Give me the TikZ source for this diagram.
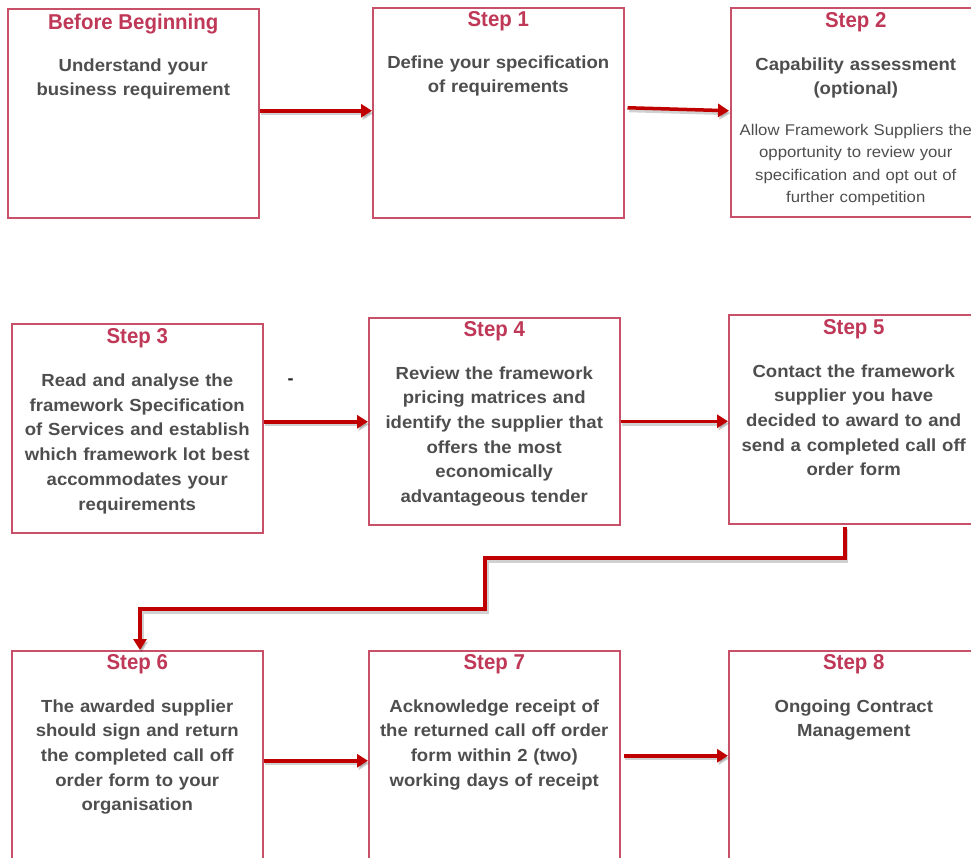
\documentclass[tikz,border=0pt]{standalone}
\usepackage{fontspec}
\setmainfont{Liberation Sans}
\newfontfamily\bodyfont[FakeStretch=1.06]{Liberation Sans}
\newfontfamily\smallfont[FakeStretch=1.08]{Liberation Sans}
\newfontfamily\titlefont[FakeStretch=0.95]{Liberation Sans}
\usetikzlibrary{arrows.meta,calc}
\definecolor{ttlred}{RGB}{192,56,88}
\definecolor{boxred}{RGB}{200,80,105}
\definecolor{txtgray}{RGB}{78,78,78}
\definecolor{arrred}{RGB}{192,0,0}
\tikzset{
  box/.style={draw=boxred, line width=1.5pt, anchor=north west, inner sep=0pt, fill=white},
  ttl/.style={anchor=base, inner sep=0pt, text=ttlred, font=\fontsize{21.5}{24}\selectfont\titlefont\bfseries},
  body/.style={anchor=base, inner sep=0pt, text=txtgray, align=center, text width=248pt,
    font=\fontsize{17.5}{24.7}\selectfont\bodyfont\bfseries},
  small/.style={anchor=base, inner sep=0pt, text=txtgray, align=center, text width=250pt,
    font=\fontsize{15.5}{22.3}\selectfont\smallfont},
  flow/.style={draw=arrred, line width=3.5pt, -{Triangle[length=11pt,width=13pt]}},
  flowshadow/.style={draw=black, opacity=0.18, line width=4pt, -{Triangle[length=11pt,width=13pt]},
    transform canvas={shift={(1.5pt,-2.5pt)}}}
}
\begin{document}
\begin{tikzpicture}[x=1pt,y=-1pt]
\useasboundingbox (0,0) rectangle (971,857);
\clip (0,0) rectangle (971,857);
\fill[white] (0,0) rectangle (971,857);

% boxes
\node[box, minimum width=251pt, minimum height=209pt] (b0) at (7,8) {};
\node[box, minimum width=251pt, minimum height=210pt] (b1) at (372,7) {};
\node[box, minimum width=250pt, minimum height=209pt] (b2) at (730,7) {};
\node[box, minimum width=251pt, minimum height=209pt] (b3) at (11,323) {};
\node[box, minimum width=251pt, minimum height=207pt] (b4) at (368,317) {};
\node[box, minimum width=250pt, minimum height=209pt] (b5) at (728,314) {};
\node[box, minimum width=251pt, minimum height=230pt] (b6) at (11,650) {};
\node[box, minimum width=251pt, minimum height=230pt] (b7) at (368,650) {};
\node[box, minimum width=250pt, minimum height=230pt] (b8) at (728,650) {};

% titles
\node[ttl] (t0) at ([yshift=-21pt]b0.north) {Before Beginning};
\node[ttl] (t1) at ([yshift=-19pt]b1.north) {Step 1};
\node[ttl] (t2) at ([yshift=-20pt]b2.north) {Step 2};
\node[ttl] (t3) at ([yshift=-20pt]b3.north) {Step 3};
\node[ttl] (t4) at ([yshift=-19.5pt]b4.north) {Step 4};
\node[ttl] (t5) at ([yshift=-20pt]b5.north) {Step 5};
\node[ttl] (t6) at ([yshift=-19.5pt]b6.north) {Step 6};
\node[ttl] (t7) at ([yshift=-19.5pt]b7.north) {Step 7};
\node[ttl] (t8) at ([yshift=-19.5pt]b8.north) {Step 8};

% body texts
\node[body] (x0) at ([yshift=-63pt]b0.north) {Understand your\\business requirement};
\node[body] (x1) at ([yshift=-61pt]b1.north) {Define your specification\\of requirements};
\node[body] (x2) at ([yshift=-63pt]b2.north) {Capability assessment\\(optional)};
\node[small] (s2) at ([yshift=-128.5pt]b2.north) {Allow Framework Suppliers the\\opportunity to review your\\specification and opt out of\\further competition};
\node[body] (x3) at ([yshift=-63.5pt]b3.north) {Read and analyse the\\framework Specification\\of Services and establish\\which framework lot best\\accommodates your\\requirements};
\node[body] (x4) at ([yshift=-62pt]b4.north) {Review the framework\\pricing matrices and\\identify the supplier that\\offers the most\\economically\\advantageous tender};
\node[body] (x5) at ([yshift=-63pt]b5.north) {Contact the framework\\supplier you have\\decided to award to and\\send a completed call off\\order form};
\node[body] (x6) at ([yshift=-62pt]b6.north) {The awarded supplier\\should sign and return\\the completed call off\\order form to your\\organisation};
\node[body] (x7) at ([yshift=-62pt]b7.north) {Acknowledge receipt of\\the returned call off order\\form within 2 (two)\\working days of receipt};
\node[body] (x8) at ([yshift=-62pt]b8.north) {Ongoing Contract\\Management};

% stray dash
\node[anchor=base, inner sep=0pt, text=black!85, font=\fontsize{18}{20}\selectfont\bfseries] (dash) at (290.5,384) {-};

% connector anchor points
\coordinate (a1s) at ([yshift=2.5pt]b0.east);
\coordinate (a2s) at ([xshift=3pt,yshift=5pt]b1.east);
\coordinate (a2e) at ([xshift=-1pt,yshift=1.5pt]b2.west);
\coordinate (a3s) at ([yshift=6.5pt]b3.east);
\coordinate (a5s) at ([xshift=-9pt,yshift=-2pt]b5.south);
\coordinate (e1) at (485,558);
\coordinate (e2) at (140,609);
\coordinate (a6s) at ([yshift=5pt]b6.east);
\coordinate (a7s) at ([xshift=3pt,yshift=10pt]b7.east);

% shadows
\draw[flowshadow] (a1s) -- (a1s -| b1.west);
\draw[flowshadow] (a2s) -- (a2e);
\draw[flowshadow] (a3s) -- (a3s -| b4.west);
\draw[flowshadow] (b4.east) -- (b4.east -| b5.west);
\draw[flowshadow] (a5s) |- (e1) |- (e2) -- (e2 |- b6.north);
\draw[flowshadow] (a6s) -- (a6s -| b7.west);
\draw[flowshadow] (a7s) -- (a7s -| b8.west);

% arrows
\draw[flow] (a1s) -- (a1s -| b1.west);
\draw[flow] (a2s) -- (a2e);
\draw[flow] (a3s) -- (a3s -| b4.west);
\draw[flow] (b4.east) -- (b4.east -| b5.west);
\draw[flow] (a5s) |- (e1) |- (e2) -- (e2 |- b6.north);
\draw[flow] (a6s) -- (a6s -| b7.west);
\draw[flow] (a7s) -- (a7s -| b8.west);
\end{tikzpicture}
\end{document}
